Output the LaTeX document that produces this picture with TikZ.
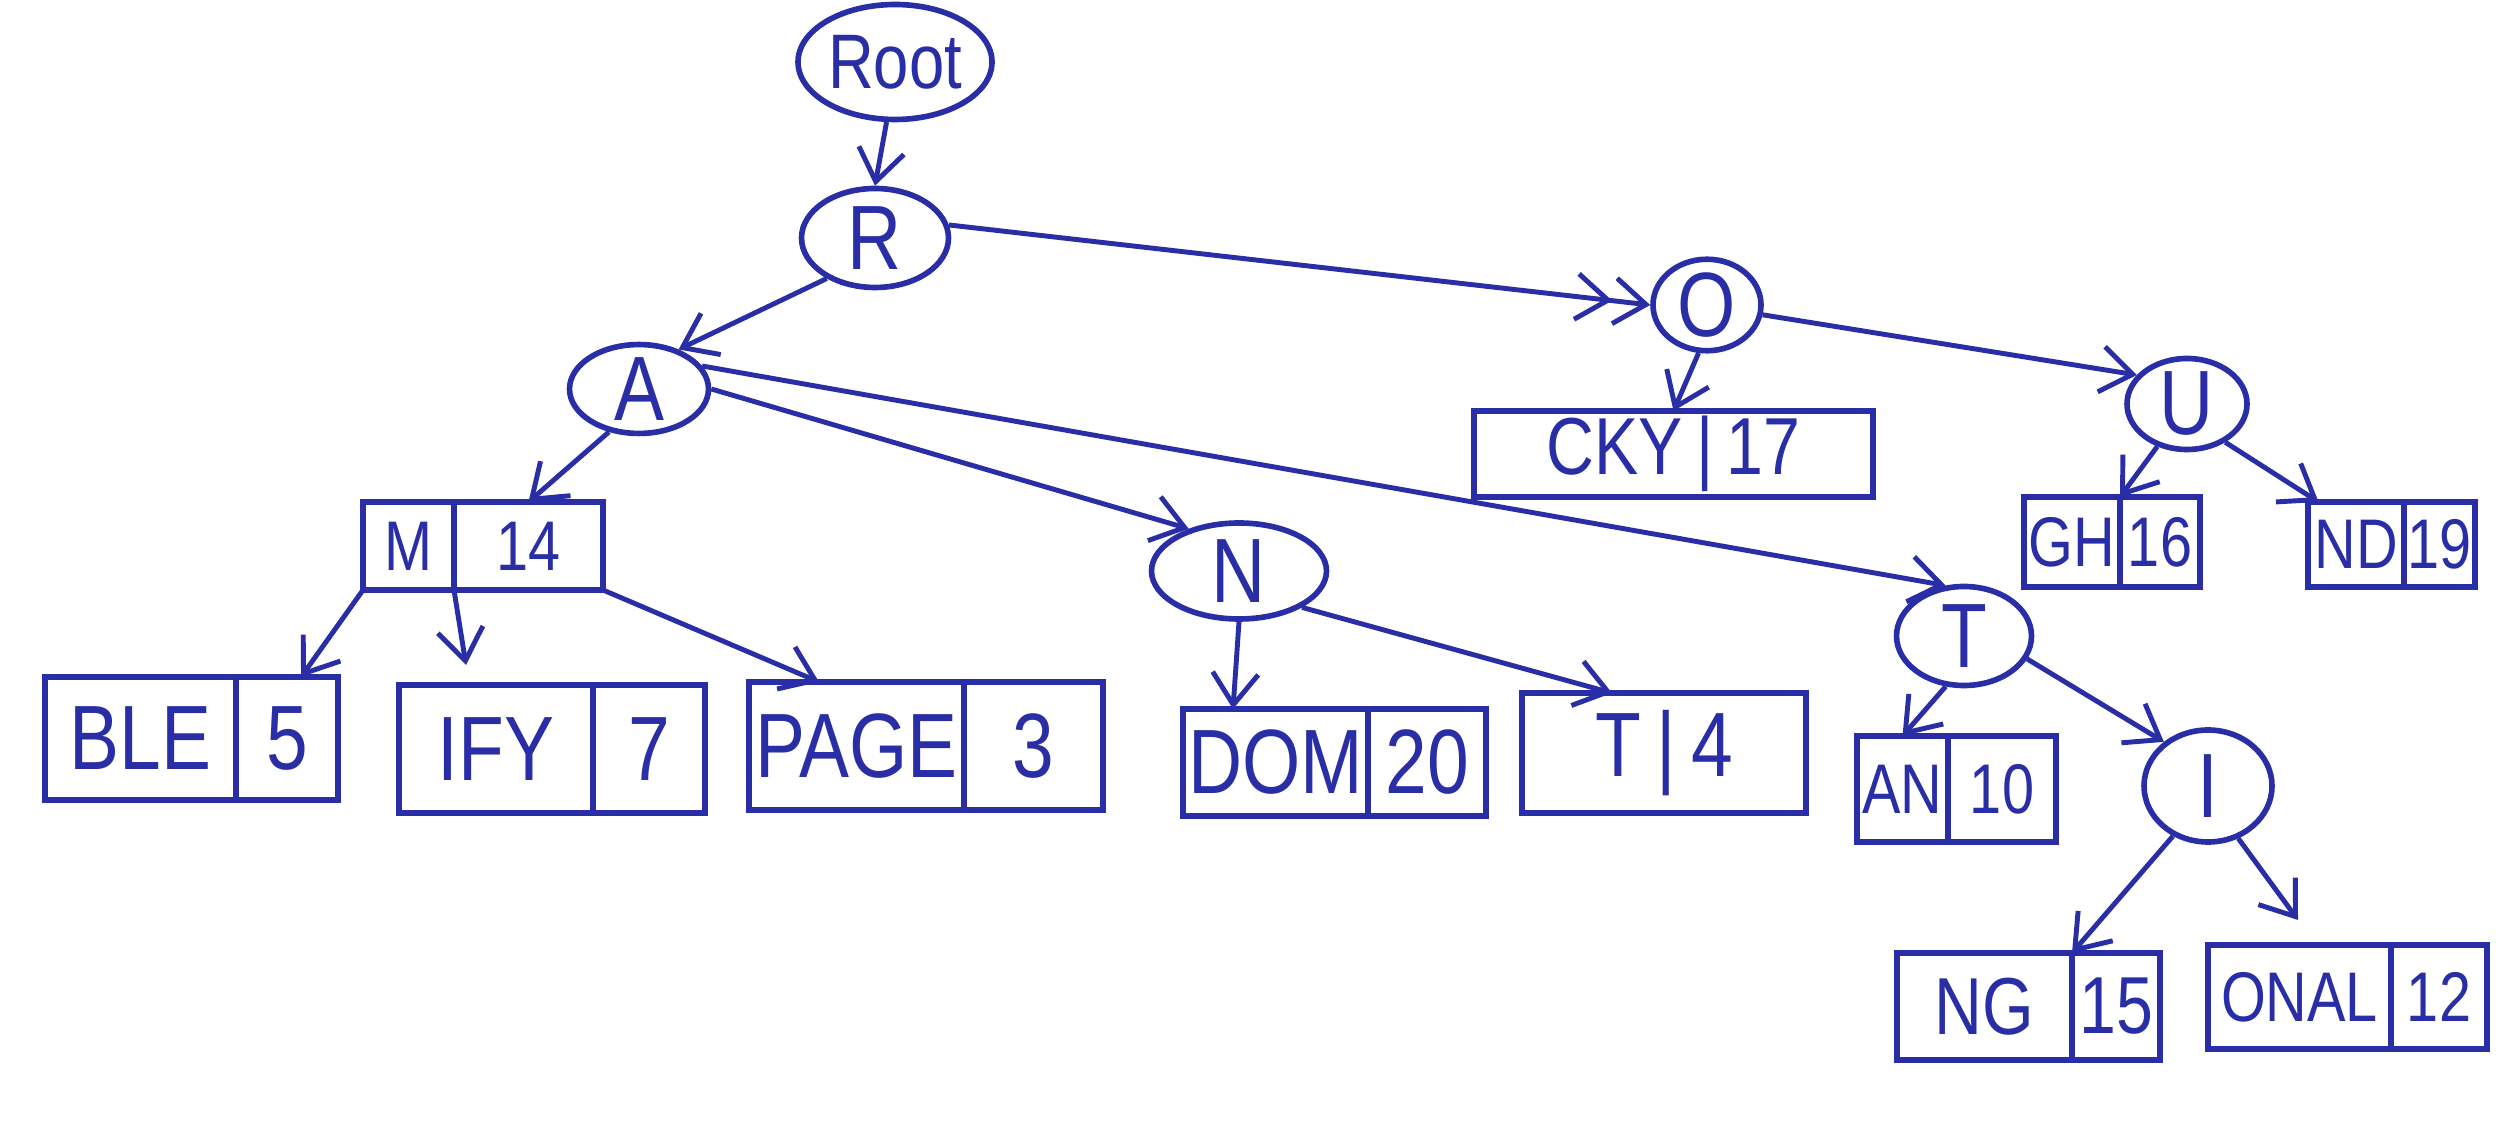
\documentclass[tikz,border=0pt]{standalone}
\usepackage{fontspec}
\newfontfamily\handfont[FakeStretch=0.82]{Liberation Sans}
\usepackage{tikz}
\usetikzlibrary{shapes.geometric, arrows.meta, positioning}
\definecolor{ink}{HTML}{2A2EA6}
\tikzset{
    letter/.style={ellipse, draw=ink, line width=1.6pt, text=ink, inner sep=0pt, font=\handfont\fontsize{26}{28}\selectfont},
    leafcell/.style={rectangle, draw=ink, line width=1.6pt, text=ink, inner sep=1pt, outer sep=0pt, font=\handfont\fontsize{20}{22}\selectfont},
    midcell/.style={leafcell, font=\handfont\fontsize{23}{25}\selectfont},
    bigcell/.style={leafcell, font=\handfont\fontsize{26}{28}\selectfont},
    branch/.style={-{Straight Barb[length=9pt, width=13pt]}, line width=1.4pt, draw=ink},
    twinbranch/.style={branch, -{Straight Barb[length=9pt, width=13pt] Straight Barb[length=9pt, width=13pt]}}
}

\begin{document}
\begin{tikzpicture}
    \fill[white] (0,0) rectangle (25,-11.24);
    \useasboundingbox (0,0) rectangle (25,-11.24);

    \node[letter, minimum width=1.94cm, minimum height=1.15cm, font=\handfont\fontsize{22}{24}\selectfont] (root) at (8.95,-0.62) {Root};
    \node[letter, minimum width=1.47cm, minimum height=0.99cm] (r) at (8.75,-2.38) {R};
    \node[letter, minimum width=1.39cm, minimum height=0.83cm] (a) at (6.39,-3.89) {A};
    \node[letter, minimum width=1.08cm, minimum height=0.75cm] (o) at (17.07,-3.05) {O};
    \node[letter, minimum width=1.20cm, minimum height=0.91cm] (u) at (21.87,-4.04) {U};
    \node[letter, minimum width=1.75cm, minimum height=0.96cm] (n) at (12.39,-5.71) {N};
    \node[letter, minimum width=1.35cm, minimum height=0.99cm] (t) at (19.64,-6.36) {T};
    \node[letter, minimum width=1.28cm, minimum height=1.12cm] (i) at (22.08,-7.86) {I};

    \node[leafcell, minimum width=0.91cm, minimum height=0.88cm, anchor=north west] (m) at (3.63,-5.02) {M};
    \node[leafcell, minimum width=1.49cm, minimum height=0.88cm, right=0pt of m] (m-v) {14};

    \node[bigcell, minimum width=1.91cm, minimum height=1.23cm, anchor=north west] (ble) at (0.45,-6.77) {BLE};
    \node[bigcell, minimum width=1.02cm, minimum height=1.23cm, right=0pt of ble] (ble-v) {5};

    \node[bigcell, minimum width=1.94cm, minimum height=1.28cm, anchor=north west] (ify) at (3.99,-6.85) {IFY};
    \node[bigcell, minimum width=1.12cm, minimum height=1.28cm, right=0pt of ify] (ify-v) {7};

    \node[bigcell, minimum width=2.15cm, minimum height=1.28cm, anchor=north west] (page) at (7.49,-6.82) {PAGE};
    \node[bigcell, minimum width=1.39cm, minimum height=1.28cm, right=0pt of page] (page-v) {3};

    \node[bigcell, minimum width=1.85cm, minimum height=1.07cm, anchor=north west] (dom) at (11.83,-7.09) {DOM};
    \node[bigcell, minimum width=1.18cm, minimum height=1.07cm, right=0pt of dom] (dom-v) {20};

    \node[bigcell, minimum width=2.84cm, minimum height=1.20cm, anchor=north west] (tfour) at (15.22,-6.93) {T\,|\,4};

    \node[midcell, minimum width=3.99cm, minimum height=0.86cm, anchor=north west] (cky) at (14.74,-4.11) {CKY\,|\,17};

    \node[leafcell, minimum width=0.96cm, minimum height=0.90cm, anchor=north west] (gh) at (20.24,-4.97) {GH};
    \node[leafcell, minimum width=0.80cm, minimum height=0.90cm, right=0pt of gh] (gh-v) {16};

    \node[leafcell, minimum width=0.96cm, minimum height=0.85cm, anchor=north west] (nd) at (23.08,-5.02) {ND};
    \node[leafcell, minimum width=0.51cm, minimum height=0.85cm, right=0pt of nd] (nd-v) {19};

    \node[leafcell, minimum width=0.91cm, minimum height=1.06cm, anchor=north west] (an) at (18.57,-7.36) {AN};
    \node[leafcell, minimum width=1.08cm, minimum height=1.06cm, right=0pt of an] (an-v) {10};

    \node[midcell, minimum width=1.75cm, minimum height=1.07cm, anchor=north west] (ng) at (18.97,-9.53) {NG};
    \node[midcell, minimum width=0.88cm, minimum height=1.07cm, right=0pt of ng] (ng-v) {15};

    \node[leafcell, minimum width=1.83cm, minimum height=1.04cm, anchor=north west] (onal) at (22.08,-9.45) {ONAL};
    \node[leafcell, minimum width=0.96cm, minimum height=1.04cm, right=0pt of onal] (onal-v) {12};

    \draw[branch] (root.262) -- (r.north);
    \draw[branch] (r.220) -- (a.45);
    \draw[twinbranch] (r.10) -- (o.west);
    \draw[branch] (a.235) -- (m-v.north);
    \draw[branch] (a.east) -- (n.140);
    \draw[branch] (a.20) -- (t.110);
    \draw[branch] (o.260) -- (cky.north);
    \draw[branch] (o.-10) -- (u.150);
    \draw[branch] (u.235) -- (gh.north east);
    \draw[branch] (u.-45) -- ([xshift=3pt]nd.north west);
    \draw[branch] (m.south west) -- ([xshift=4pt]ble-v.north);
    \draw[branch] (m.south east) -- ([xshift=-0.3cm, yshift=0.2cm]ify.north);
    \draw[branch] (m-v.south east) -- ([xshift=0.7cm]page.north west);
    \draw[branch] (n.south) -- ([xshift=0.5cm]dom.north west);
    \draw[branch] (n.-30) -- ([xshift=0.9cm]tfour.north west);
    \draw[branch] (t.250) -- (an.north);
    \draw[branch] (t.-20) -- (i.135);
    \draw[branch] (i.235) -- (ng.north east);
    \draw[branch] (i.-60) -- ([xshift=0.9cm, yshift=0.25cm]onal.north west);
\end{tikzpicture}
\end{document}
